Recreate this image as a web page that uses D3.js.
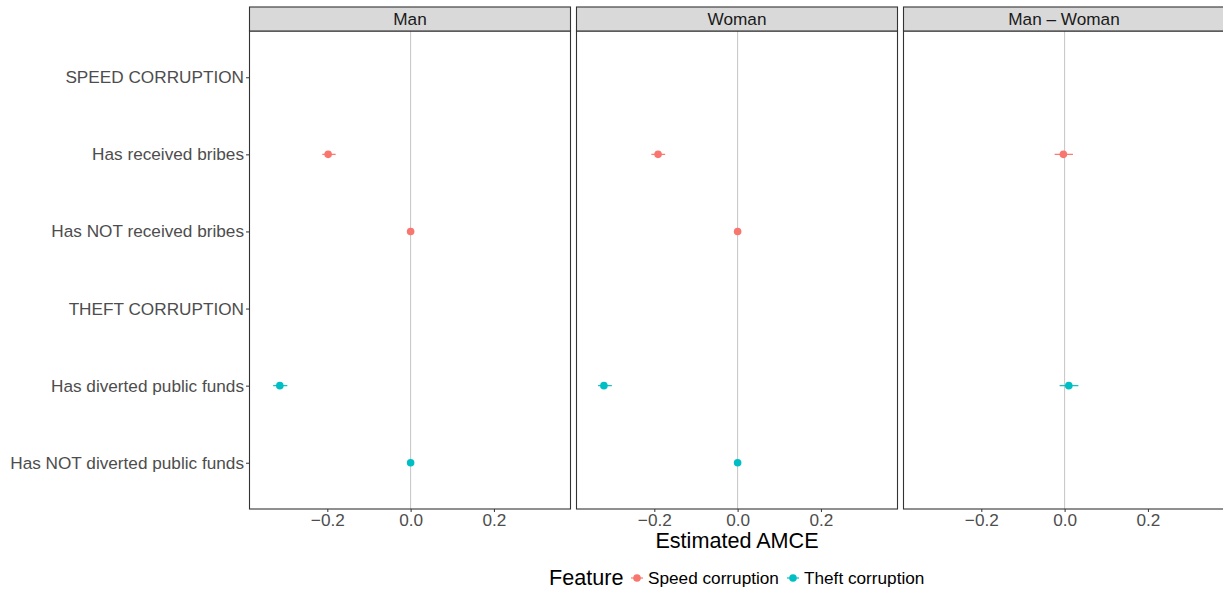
<!DOCTYPE html>
<html>
<head>
<meta charset="utf-8">
<script src="https://cdn.jsdelivr.net/npm/d3@7"></script>
<style>
  body { margin: 0; background: #fff; }
  svg text { font-family: "Liberation Sans", Arial, sans-serif; }
</style>
</head>
<body>
<div id="chart"></div>
<script>
// facets and rows (top to bottom)
const PANELS = ["Man", "Woman", "Man \u2013 Woman"];
const LEVELS = [
  "SPEED CORRUPTION",
  "Has received bribes",
  "Has NOT received bribes",
  "THEFT CORRUPTION",
  "Has diverted public funds",
  "Has NOT diverted public funds",
];
const FEATURES = ["Speed corruption", "Theft corruption"];
const COLORS = ["#F8766D", "#00BFC4"];
const X_TICKS = [-0.2, 0, 0.2];

// estimates: [panel, level, feature, estimate, lower, upper]
const ESTIMATES = [
  ["Man", "Has received bribes", "Speed corruption", -0.198, -0.212, -0.180],
  ["Man", "Has NOT received bribes", "Speed corruption", 0, 0, 0],
  ["Man", "Has diverted public funds", "Theft corruption", -0.314, -0.330, -0.296],
  ["Man", "Has NOT diverted public funds", "Theft corruption", 0, 0, 0],
  ["Woman", "Has received bribes", "Speed corruption", -0.191, -0.207, -0.174],
  ["Woman", "Has NOT received bribes", "Speed corruption", 0, 0, 0],
  ["Woman", "Has diverted public funds", "Theft corruption", -0.321, -0.335, -0.302],
  ["Woman", "Has NOT diverted public funds", "Theft corruption", 0, 0, 0],
  ["Man \u2013 Woman", "Has received bribes", "Speed corruption", -0.003, -0.024, 0.020],
  ["Man \u2013 Woman", "Has diverted public funds", "Theft corruption", 0.010, -0.012, 0.033],
];

const W = 1223, H = 591;
const PLOT = { left: 249, top: 31, bottom: 509, stripTop: 7 };
const PANEL_W = 322, GAP = 5;
const FS = "17.2px", FS_BIG = "21.6px";

const svg = d3.select("#chart").append("svg")
  .attr("width", W).attr("height", H);

const color = d3.scaleOrdinal().domain(FEATURES).range(COLORS);

// ggplot-style discrete expansion: 0.6 units each side
const yPoint = d3.scalePoint().domain(LEVELS)
  .range([PLOT.top, PLOT.bottom]).padding(0.6);

const rows = ESTIMATES.map(d => ({
  panel: d[0], level: d[1], feature: d[2], est: d[3], lo: d[4], hi: d[5],
}));

// y axis on the left panel
const yAxis = svg.append("g")
  .attr("transform", `translate(${PLOT.left},0)`)
  .call(d3.axisLeft(yPoint).tickSize(3).tickPadding(2));
yAxis.select(".domain").remove();
yAxis.selectAll(".tick line").attr("stroke", "#333").attr("stroke-width", 1);
yAxis.selectAll(".tick text")
  .attr("fill", "#4d4d4d").style("font-size", FS);

PANELS.forEach((p, i) => {
  const x0 = PLOT.left + i * (PANEL_W + GAP);
  const x = d3.scaleLinear().domain([-0.388, 0.385]).range([x0, x0 + PANEL_W]);
  const g = svg.append("g");

  // zero line
  g.append("line")
    .attr("x1", x(0)).attr("x2", x(0))
    .attr("y1", PLOT.top).attr("y2", PLOT.bottom)
    .attr("stroke", "#c4c4c4").attr("stroke-width", 1);

  // CIs and points
  const pd = rows.filter(d => d.panel === p);
  g.selectAll(".ci").data(pd).join("line")
    .attr("x1", d => x(d.lo)).attr("x2", d => x(d.hi))
    .attr("y1", d => yPoint(d.level)).attr("y2", d => yPoint(d.level))
    .attr("stroke", d => color(d.feature)).attr("stroke-width", 1.2);
  g.selectAll(".pt").data(pd).join("circle")
    .attr("cx", d => x(d.est)).attr("cy", d => yPoint(d.level))
    .attr("r", 3.8).attr("fill", d => color(d.feature));

  // panel border
  g.append("rect")
    .attr("x", x0 + 0.5).attr("y", PLOT.top)
    .attr("width", PANEL_W - 1).attr("height", PLOT.bottom - PLOT.top)
    .attr("fill", "none").attr("stroke", "#333").attr("stroke-width", 1.1);

  // strip
  g.append("rect")
    .attr("x", x0 + 0.5).attr("y", PLOT.stripTop)
    .attr("width", PANEL_W - 1).attr("height", PLOT.top - PLOT.stripTop)
    .attr("fill", "#d9d9d9").attr("stroke", "#333").attr("stroke-width", 1.1);
  g.append("text")
    .attr("x", x0 + PANEL_W / 2).attr("y", (PLOT.stripTop + PLOT.top) / 2 + 6)
    .attr("text-anchor", "middle").attr("fill", "#1a1a1a")
    .style("font-size", FS).text(p);

  // x axis
  const xa = svg.append("g")
    .attr("transform", `translate(0,${PLOT.bottom})`)
    .call(d3.axisBottom(x).tickValues(X_TICKS).tickSize(3).tickPadding(2)
      .tickFormat(d => d3.format(".1f")(d).replace("-", "\u2013")));
  xa.select(".domain").remove();
  xa.selectAll(".tick line").attr("stroke", "#333");
  xa.selectAll(".tick text").attr("fill", "#4d4d4d").style("font-size", FS);
});

// axis title
svg.append("text")
  .attr("x", 737).attr("y", 548)
  .attr("text-anchor", "middle").attr("fill", "#000")
  .style("font-size", FS_BIG).text("Estimated AMCE");

// legend
const leg = svg.append("g");
leg.append("text").attr("x", 549).attr("y", 585)
  .style("font-size", FS_BIG).attr("fill", "#000").text("Feature");
const legX = [637, 793];
FEATURES.forEach((f, i) => {
  leg.append("line")
    .attr("x1", legX[i] - 6).attr("x2", legX[i] + 6)
    .attr("y1", 578).attr("y2", 578)
    .attr("stroke", color(f)).attr("stroke-width", 1.2);
  leg.append("circle").attr("cx", legX[i]).attr("cy", 578).attr("r", 3.8)
    .attr("fill", color(f));
  leg.append("text").attr("x", legX[i] + 11).attr("y", 584)
    .style("font-size", FS).attr("fill", "#000").text(f);
});
</script>
</body>
</html>
